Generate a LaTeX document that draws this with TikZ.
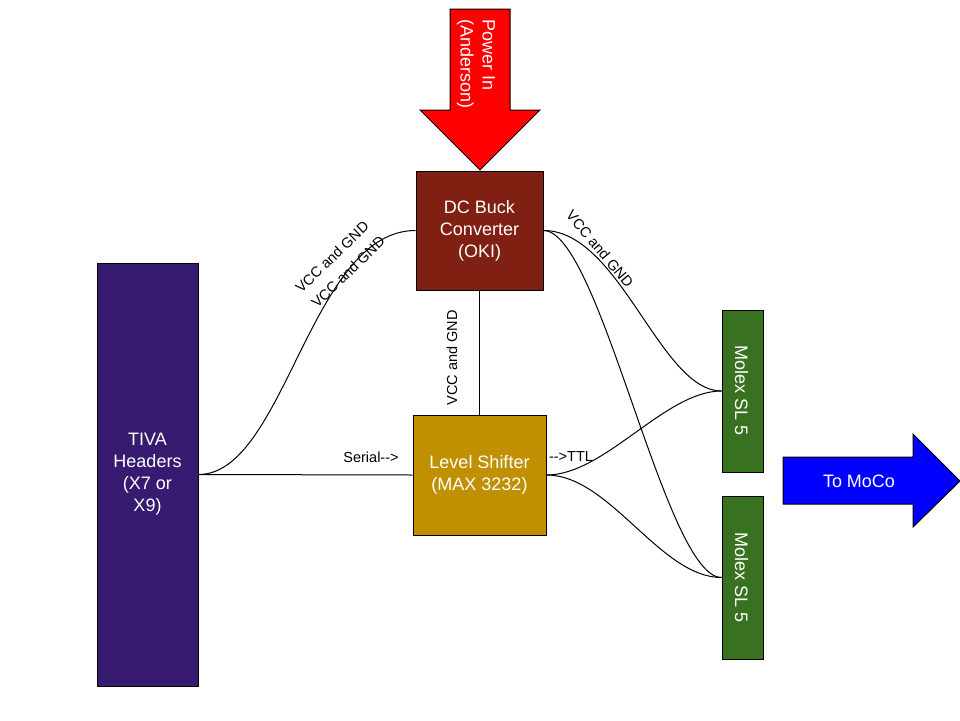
\documentclass[tikz,border=0pt]{standalone}
\usepackage{fontspec}
\setmainfont{Liberation Sans}
\definecolor{tivacol}{RGB}{54,27,112}
\definecolor{buckcol}{RGB}{128,32,18}
\definecolor{shiftcol}{RGB}{192,144,0}
\definecolor{molexcol}{RGB}{56,114,32}
\definecolor{powercol}{RGB}{255,0,0}
\definecolor{mococol}{RGB}{0,0,255}
\tikzset{
  box/.style={draw=black, line width=1pt, inner sep=0pt, align=center,
    font=\fontsize{18}{22}\selectfont, text=white},
  boxtext/.style={inner sep=0pt, align=center, font=\fontsize{18}{22}\selectfont, text=white},
  lbl/.style={inner sep=0pt, font=\fontsize{14.5}{17}\selectfont, text=black},
  wire/.style={line width=1pt, draw=black},
  bigarrow/.style={draw=black, line width=1pt},
}
\begin{document}
\begin{tikzpicture}[x=1pt,y=-1pt]
\useasboundingbox (0,0) rectangle (960,720);
% boxes
\node[box, fill=tivacol, minimum width=101pt, minimum height=423pt] (tiva) at (147.5,474.5) {TIVA\\Headers\\(X7 or\\X9)};
\node[box, fill=buckcol, minimum width=127pt, minimum height=119pt] (buck) at (479.5,230.5) {DC Buck\\Converter\\(OKI)};
\node[box, fill=shiftcol, minimum width=133pt, minimum height=120pt] (shift) at (479.5,475) {Level Shifter\\(MAX 3232)};
\node[box, fill=molexcol, minimum width=41pt, minimum height=162pt] (molexa) at (742.5,391) {};
\node[box, fill=molexcol, minimum width=41pt, minimum height=163pt] (molexb) at (742.5,577.5) {};
\node[boxtext, rotate=-90] (molexatext) at (741.5,391) {Molex SL 5};
\node[boxtext, rotate=-90] (molexbtext) at (741.5,577.5) {Molex SL 5};
% power arrow
\coordinate (ptip) at (480,170);
\draw[bigarrow, fill=powercol] (450,9) -- (510,9) -- (510,110) -- (540,110) -- (ptip) -- (420,110) -- (450,110) -- cycle;
\node[boxtext, rotate=-90, align=left] (powertext) at (476,64) {Power In\\(Anderson)};
% moco arrow
\coordinate (mtip) at (960,481);
\draw[bigarrow, fill=mococol] (783,457) -- (913,457) -- (913,434) -- (mtip) -- (913,527) -- (913,504) -- (783,504) -- cycle;
\node[boxtext] (mocotext) at (859,481) {To MoCo};
% connectors
\draw[wire] (tiva.east) -- (shift.west);
\draw[wire] (tiva.east) .. controls (285,474.5) and (310,230.5) .. (buck.west);
\draw[wire] (buck.south) -- (shift.north);
\coordinate (ma) at (molexa.west);
\coordinate (mb) at (molexb.west);
\draw[wire] (buck.east) .. controls (620,230.5) and (660,391) .. (ma);
\draw[wire] (buck.east) .. controls (600,230.5) and (665,577.5) .. (mb);
\draw[wire] (shift.east) .. controls (605,475) and (665,391) .. (ma);
\draw[wire] (shift.east) .. controls (610,475) and (660,577.5) .. (mb);
% labels
\node[lbl] (serial) at (371,457) {Serial-{}-{}>};
\node[lbl] (ttl) at (571,457) {-{}-{}>TTL};
\node[lbl, rotate=90] (vccmid) at (452,358) {VCC and GND};
\node[lbl, rotate=44] (vccleft) at (332,257) {VCC and GND};
\node[lbl, rotate=44] (vccleftb) at (348,272) {VCC and GND};
\node[lbl, rotate=-50] (vccright) at (600,249) {VCC and GND};
\end{tikzpicture}
\end{document}
